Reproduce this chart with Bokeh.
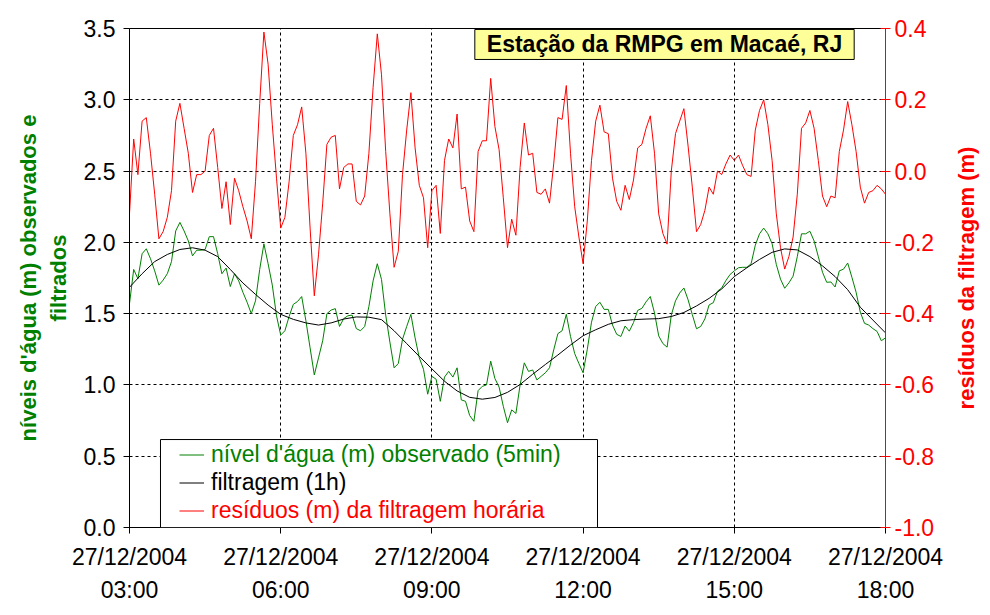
import pandas as pd
from bokeh.plotting import figure
from bokeh.layouts import row
from bokeh.models import (ColumnDataSource, LinearAxis, Range1d, FixedTicker,
                          NumeralTickFormatter, DatetimeTickFormatter, Legend,
                          LegendItem, Label, BoxAnnotation)
from bokeh.embed import file_html
from bokeh.resources import INLINE

# ---------------- data ----------------
t_start = "2004-12-27 03:00"
t_end = "2004-12-27 18:00"
times_5min = pd.date_range(t_start, t_end, freq="5min")
times_15min = pd.date_range(t_start, t_end, freq="15min")

nivel_obs = [
    1.57, 1.81, 1.745, 1.92, 1.955, 1.885, 1.80, 1.70, 1.735, 1.78,
    1.865, 2.08, 2.14, 2.08, 2.01, 1.905, 1.945, 1.945, 1.95, 2.04,
    2.04, 1.92, 1.78, 1.82, 1.69, 1.78, 1.73, 1.65, 1.58, 1.50,
    1.59, 1.81, 1.99, 1.85, 1.70, 1.485, 1.35, 1.38, 1.48, 1.565,
    1.585, 1.62, 1.45, 1.26, 1.07, 1.19, 1.31, 1.50, 1.525, 1.535,
    1.41, 1.465, 1.485, 1.49, 1.395, 1.38, 1.41, 1.55, 1.73, 1.85,
    1.74, 1.49, 1.30, 1.12, 1.15, 1.32, 1.41, 1.495, 1.33, 1.19,
    1.11, 0.935, 1.06, 1.04, 0.885, 1.055, 1.095, 1.055, 1.12, 0.895,
    0.885, 0.785, 0.745, 0.96, 0.99, 1.00, 1.167, 1.045, 0.985, 0.85,
    0.735, 0.825, 0.80, 1.00, 1.155, 1.095, 1.105, 1.035, 1.06, 1.085,
    1.12, 1.245, 1.36, 1.38, 1.495, 1.34, 1.22, 1.15, 1.085, 1.25,
    1.44, 1.55, 1.58, 1.53, 1.53, 1.42, 1.355, 1.34, 1.413, 1.377,
    1.437, 1.523, 1.537, 1.583, 1.62, 1.505, 1.344, 1.29, 1.265, 1.49,
    1.59, 1.645, 1.68, 1.597, 1.493, 1.394, 1.41, 1.463, 1.561, 1.577,
    1.658, 1.68, 1.732, 1.775, 1.80, 1.822, 1.825, 1.825, 1.85, 1.98,
    2.06, 2.10, 2.06, 1.99, 1.845, 1.742, 1.678, 1.716, 1.763, 1.90,
    2.06, 2.06, 2.078, 2.01, 1.90, 1.79, 1.72, 1.722, 1.687, 1.80,
    1.812, 1.855, 1.755, 1.65, 1.51, 1.432, 1.42, 1.395, 1.375, 1.31,
    1.33,
]

residuos = [
    -0.12, 0.09, -0.01, 0.14, 0.15, 0.05, -0.065, -0.19, -0.17, -0.13,
    -0.055, 0.14, 0.19, 0.12, 0.05, -0.06, -0.01, -0.01, 0.0, 0.10,
    0.12, 0.01, -0.105, -0.03, -0.15, -0.02, -0.055, -0.10, -0.14, -0.19,
    -0.03, 0.19, 0.39, 0.30, 0.13, -0.02, -0.16, -0.13, -0.03, 0.10,
    0.13, 0.18, 0.05, -0.16, -0.35, -0.235, -0.09, 0.075, 0.095, 0.10,
    -0.05, 0.01, 0.02, 0.02, -0.085, -0.095, -0.07, 0.05, 0.235, 0.385,
    0.27, 0.055, -0.12, -0.27, -0.225, -0.01, 0.115, 0.22, 0.065, -0.04,
    -0.075, -0.215, -0.055, -0.04, -0.175, 0.03, 0.09, 0.065, 0.16, -0.05,
    -0.045, -0.14, -0.17, 0.055, 0.085, 0.085, 0.26, 0.125, 0.06, -0.075,
    -0.215, -0.135, -0.18, 0.01, 0.135, 0.045, 0.05, -0.06, -0.065, -0.05,
    -0.09, 0.02, 0.15, 0.145, 0.24, 0.05, -0.10, -0.185, -0.26, -0.14,
    0.03, 0.14, 0.185, 0.11, 0.105, -0.02, -0.085, -0.11, -0.04, -0.08,
    -0.025, 0.065, 0.075, 0.12, 0.155, 0.05, -0.12, -0.175, -0.205, 0.0,
    0.105, 0.14, 0.175, 0.07, -0.045, -0.17, -0.15, -0.11, -0.045, -0.065,
    0.0, -0.01, 0.02, 0.045, 0.03, 0.045, 0.015, -0.01, -0.015, 0.115,
    0.17, 0.20, 0.13, 0.03, -0.12, -0.215, -0.275, -0.24, -0.185, -0.065,
    0.12, 0.135, 0.17, 0.12, 0.03, -0.07, -0.10, -0.07, -0.075, 0.055,
    0.115, 0.195, 0.13, 0.055, -0.045, -0.09, -0.06, -0.055, -0.04, -0.05,
    -0.065,
]

filtragem = [
    1.685, 1.78, 1.865, 1.915, 1.95, 1.962, 1.945, 1.90, 1.81, 1.715,
    1.635, 1.56, 1.495, 1.46, 1.435, 1.42, 1.435, 1.462, 1.477, 1.475,
    1.458, 1.38, 1.29, 1.20, 1.113, 1.026, 0.958, 0.913, 0.90, 0.912,
    0.948, 1.003, 1.075, 1.143, 1.21, 1.28, 1.345, 1.387, 1.425, 1.45,
    1.458, 1.462, 1.465, 1.48, 1.508, 1.554, 1.607, 1.673, 1.76, 1.822,
    1.88, 1.93, 1.954, 1.947, 1.90, 1.835, 1.76, 1.668, 1.545, 1.455,
    1.365,
]

x_tick_times = ["2004-12-27 03:00", "2004-12-27 06:00", "2004-12-27 09:00",
                "2004-12-27 12:00", "2004-12-27 15:00", "2004-12-27 18:00"]
left_ticks = [0.0, 0.5, 1.0, 1.5, 2.0, 2.5, 3.0, 3.5]
right_ticks = [-1.0, -0.8, -0.6, -0.4, -0.2, 0.0, 0.2, 0.4]

title_text = "Estação da RMPG em Macaé, RJ"
lbl_obs = "nível d'água (m) observado (5min)"
lbl_filt = "filtragem (1h)"
lbl_res = "resíduos (m) da filtragem horária"
left_label = "níveis d'água (m) observados e\nfiltrados"
right_label = "resíduos da filtragem (m)"

# ---------------- helpers ----------------
EPOCH = pd.Timestamp("1970-01-01")


def ms(ts):
    return (pd.Timestamp(ts) - EPOCH) / pd.Timedelta(milliseconds=1)


def hours_ms(h):
    return ms(t_start) + h * 3600 * 1000.0


FONT = "Liberation Sans"
GREEN = "#008000"
RED = "#FF0000"
FS = "23px"
FS_LAB = "22px"
H = 607

p = figure(width=950, height=H, x_axis_type="datetime",
           x_range=Range1d(ms(t_start), ms(t_end)), y_range=Range1d(0, 3.5),
           output_backend="svg", toolbar_location=None,
           min_border_left=129, min_border_right=65,
           min_border_top=28, min_border_bottom=80)
p.outline_line_color = "black"
p.outline_line_width = 1
p.background_fill_color = "white"
p.border_fill_color = "white"

# left axis
la = p.yaxis[0]
la.ticker = FixedTicker(ticks=left_ticks)
la.formatter = NumeralTickFormatter(format="0.0")
la.major_tick_out = 6
la.major_tick_in = 0
la.minor_tick_out = 0
la.minor_tick_in = 0
la.axis_line_color = "black"
la.major_tick_line_color = "black"
la.major_label_text_font = FONT
la.major_label_text_font_size = FS
la.major_label_text_color = "black"
la.major_label_standoff = 8
la.axis_label = left_label
la.axis_label_text_font = FONT
la.axis_label_text_font_size = FS_LAB
la.axis_label_text_font_style = "bold"
la.axis_label_text_color = GREEN
la.axis_label_standoff = 10

# bottom axis
xa = p.xaxis[0]
xa.ticker = FixedTicker(ticks=[ms(t) for t in x_tick_times])
fmt = "%d/%m/%Y\n%H:%M"
xa.formatter = DatetimeTickFormatter(milliseconds=fmt, seconds=fmt, minsec=fmt,
                                     minutes=fmt, hourmin=fmt, hours=fmt,
                                     days=fmt, months=fmt, years=fmt)
xa.major_tick_out = 6
xa.major_tick_in = 0
xa.minor_tick_out = 0
xa.minor_tick_in = 0
xa.major_label_text_font = FONT
xa.major_label_text_font_size = FS
xa.major_label_text_color = "black"
xa.major_label_text_line_height = 1.3
xa.major_label_standoff = 10

# grids
p.xgrid.ticker = xa.ticker
p.ygrid.ticker = la.ticker
for g in (p.xgrid[0], p.ygrid[0]):
    g.grid_line_color = "black"
    g.grid_line_dash = "3 3"
    g.grid_line_width = 1
    g.grid_line_alpha = 1.0

# right axis (values)
p.extra_y_ranges = {"res": Range1d(-1.0, 0.4)}
ra = LinearAxis(y_range_name="res", ticker=FixedTicker(ticks=right_ticks),
                formatter=NumeralTickFormatter(format="0.0"))
ra.axis_line_color = RED
ra.major_tick_line_color = RED
ra.major_tick_in = 5
ra.major_tick_out = 5
ra.minor_tick_in = 0
ra.minor_tick_out = 0
ra.major_label_text_font = FONT
ra.major_label_text_font_size = FS
ra.major_label_text_color = RED
ra.major_label_standoff = 4
p.add_layout(ra, "right")

# ---------------- series ----------------
src5 = ColumnDataSource(dict(t=times_5min, nivel=nivel_obs, res=residuos))
src15 = ColumnDataSource(dict(t=times_15min, filt=filtragem))

r_red = p.line("t", "res", source=src5, y_range_name="res", line_color=RED, line_width=1)
r_green = p.line("t", "nivel", source=src5, line_color=GREEN, line_width=1)
r_black = p.line("t", "filt", source=src15, line_color="black", line_width=1)

# ---------------- legend ----------------
box = BoxAnnotation(left=hours_ms(0.615), right=hours_ms(9.286), bottom=0.0, top=0.617,
                    fill_color="white", fill_alpha=1.0, line_color="black",
                    line_width=1, line_alpha=1.0)
p.add_layout(box)

for rend, lab, col, yoff in [(r_green, lbl_obs, GREEN, 59.5),
                             (r_black, lbl_filt, "black", 31.5),
                             (r_red, lbl_res, RED, 3.5)]:
    lg = Legend(items=[LegendItem(label=lab, renderers=[rend])],
                location=(50, yoff), padding=0, margin=0, spacing=0,
                border_line_color=None, background_fill_alpha=0.0,
                label_text_color=col, label_text_font=FONT,
                label_text_font_size=FS, glyph_width=25, glyph_height=27,
                label_height=27, label_standoff=7)
    p.add_layout(lg)

# ---------------- title box ----------------
title = Label(x=hours_ms(10.615), y=3.388, text=title_text,
              text_align="center", text_baseline="middle",
              text_font=FONT, text_font_size=FS, text_font_style="bold",
              text_color="black", background_fill_color="#FFFF99",
              background_fill_alpha=1.0, border_line_color="black",
              border_line_width=1, padding=(12, 2))
p.add_layout(title)

# ---------------- right-hand axis title (reads bottom to top) ----------------
p2 = figure(width=32, height=H, output_backend="svg", toolbar_location=None,
            x_range=Range1d(0, 1), y_range=Range1d(0, 1),
            min_border_left=30, min_border_right=0,
            min_border_top=28, min_border_bottom=80)
p2.xaxis.visible = False
p2.xgrid.visible = False
p2.ygrid.visible = False
p2.outline_line_color = None
p2.background_fill_color = "white"
p2.border_fill_color = "white"
a2 = p2.yaxis[0]
a2.ticker = FixedTicker(ticks=[])
a2.axis_line_color = None
a2.major_tick_line_color = None
a2.minor_tick_line_color = None
a2.major_tick_out = 0
a2.major_tick_in = 0
a2.minor_tick_out = 0
a2.minor_tick_in = 0
a2.major_label_standoff = 0
a2.axis_label = right_label
a2.axis_label_text_font = FONT
a2.axis_label_text_font_size = FS_LAB
a2.axis_label_text_font_style = "bold"
a2.axis_label_text_color = RED
a2.axis_label_standoff = 2

layout = row(p, p2, spacing=0)
open("out.html", "w").write(file_html(layout, INLINE))
